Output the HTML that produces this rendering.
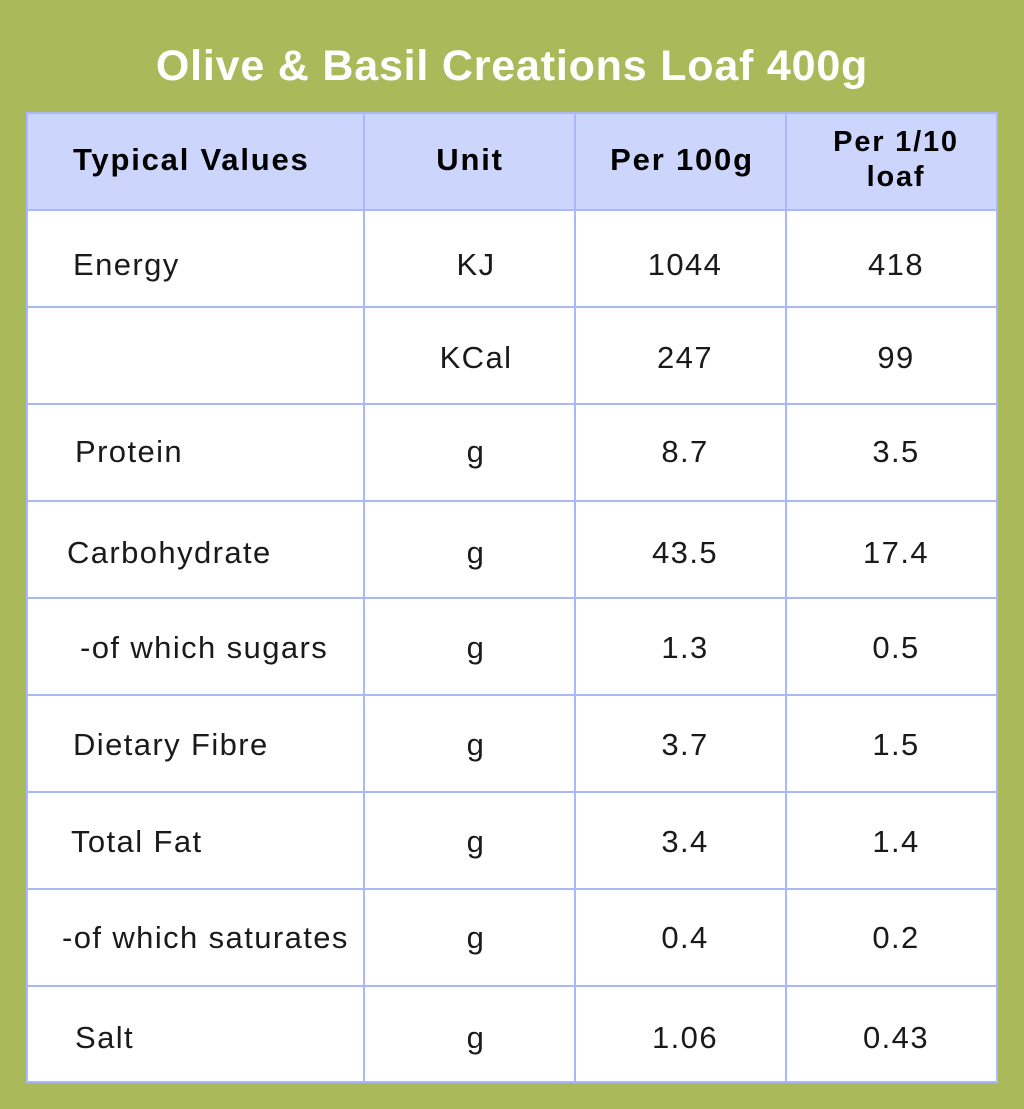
<!DOCTYPE html>
<html><head><meta charset="utf-8"><style>
body{margin:0;width:1024px;height:1109px;background:#aaba5a;position:relative;overflow:hidden;font-family:"Liberation Sans",sans-serif;}
#title{position:absolute;left:0;top:42px;width:1024px;text-align:center;color:#fff;font-weight:bold;font-size:43px;letter-spacing:0.8px;}
#tbl{position:absolute;left:26px;top:112px;width:972px;height:971px;background:#fff;}
.hdr{position:absolute;left:0;top:0;width:972px;height:97px;background:#ccd5fc;}
.hl{position:absolute;left:0;width:972px;height:2px;background:#a9b7fb;}
.vl{position:absolute;top:0;height:971px;width:2px;background:#a9b7fb;}
.c{position:absolute;color:#1a1a1a;font-size:31px;letter-spacing:1.4px;white-space:nowrap;transform:translateY(-50%);line-height:1.15;}
.ctr{transform:translate(-50%,-50%);text-align:center;}
.b{font-weight:bold;color:#000;font-size:31px;letter-spacing:1.8px;}
</style></head><body>
<div id="title">Olive &amp; Basil Creations Loaf 400g</div>
<div id="tbl"></div>
<script>
const labels=["Energy","","Protein","Carbohydrate","-of which sugars","Dietary Fibre","Total Fat","-of which saturates","Salt"];
const units=["KJ","KCal","g","g","g","g","g","g","g"];
const per100=["1044","247","8.7","43.5","1.3","3.7","3.4","0.4","1.06"];
const perSlice=["418","99","3.5","17.4","0.5","1.5","1.4","0.2","0.43"];
const indents=[47,47,49,41,54,47,45,36,49];
const yc=[153,246,340,441,536,633,730,826,926];
const t=document.getElementById('tbl');
function add(cls,txt,l,top,name){const d=document.createElement('div');d.className=cls;d.textContent=txt;d.style.left=l+'px';d.style.top=top+'px';


t.appendChild(d);return d;}
const h=document.createElement('div');h.className='hdr';


t.appendChild(h);
const rowsY=[0,97,194,291,388,485,582,679,776,873,969];
rowsY.forEach(y=>{const d=document.createElement('div');d.className='hl';d.style.top=y+'px';


t.appendChild(d);});
[0,337,548,759,970].forEach(x=>{const d=document.createElement('div');d.className='vl';d.style.left=x+'px';


t.appendChild(d);});
add('c b','Typical Values',47,48,'header-typical-values');
add('c b ctr','Unit',444,48,'header-unit');
add('c b ctr','Per 100g',656,48,'header-per-100g');
const ph=add('c b ctr','',870,48,'header-per-tenth-loaf');ph.innerHTML='Per 1/10<br>loaf';ph.style.lineHeight='1.2';ph.style.fontSize='29px';
for(let i=0;i<labels.length;i++){
 if(labels[i])add('c',labels[i],indents[i],yc[i],'row-label');
 add('c ctr',units[i],450,yc[i],'unit-cell');
 add('c ctr',per100[i],659,yc[i],'per-100g-cell');
 add('c ctr',perSlice[i],870,yc[i],'per-slice-cell');
}
</script>
</body></html>
